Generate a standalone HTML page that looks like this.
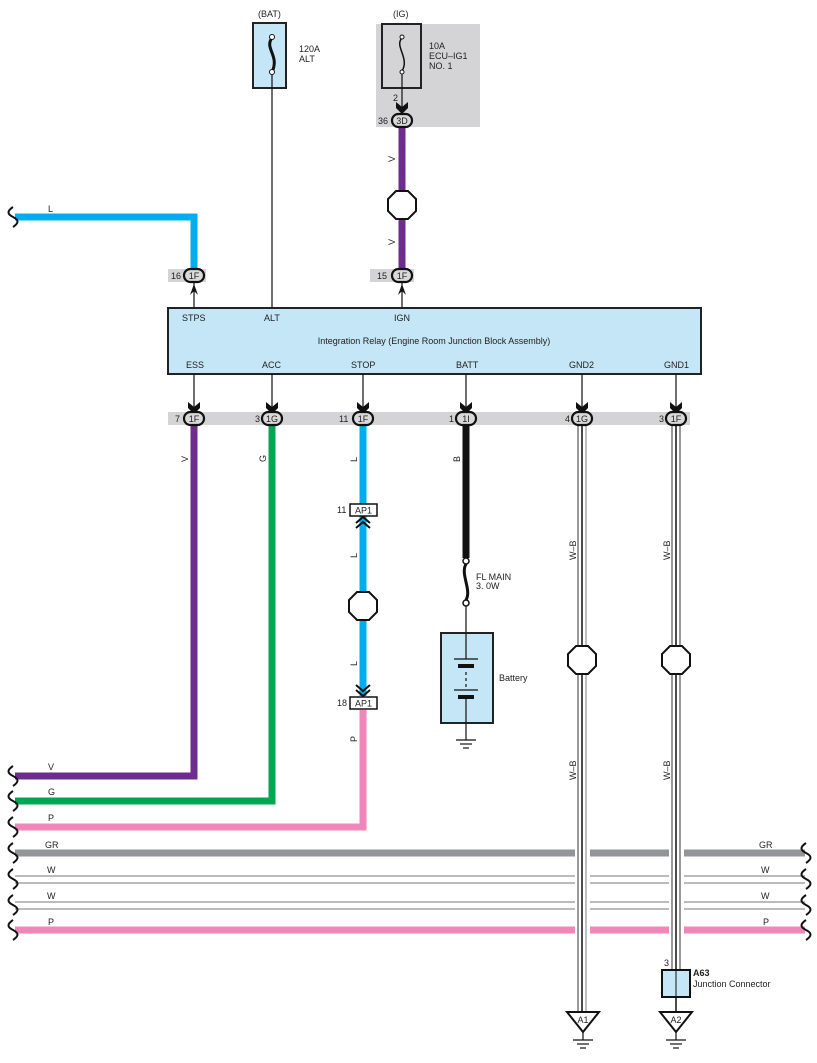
<!DOCTYPE html>
<html><head><meta charset="utf-8"><style>body{margin:0;background:#fff}svg{display:block}text{font-family:"Liberation Sans",sans-serif;font-size:9px;fill:#222}</style></head><body>
<svg width="817" height="1063" viewBox="0 0 817 1063" xmlns="http://www.w3.org/2000/svg">
<defs>
<path id="dn" d="M-6,-8 L0,-3 L6,-8 L6,-2 L0,4 L-6,-2 Z" fill="#111"/>
<path id="wave" d="M0,-10 C-6,-6 -6,-3 0,0 C6,3 6,6 0,10" fill="none" stroke="#111" stroke-width="2"/>
</defs>
<rect x="376" y="24" width="104" height="103" fill="#d4d4d6"/>
<rect x="168" y="269" width="38" height="13" fill="#d4d4d6"/>
<rect x="370" y="269" width="44" height="13" fill="#d4d4d6"/>
<rect x="168" y="412" width="522" height="13" fill="#d4d4d6"/>
<text x="258" y="17">(BAT)</text>
<rect x="253" y="23" width="33" height="65" fill="#c5e6f6" stroke="#222" stroke-width="2"/>
<path d="M272,38 C264,48 280,56 272,72" fill="none" stroke="#111" stroke-width="3"/>
<circle cx="272" cy="37" r="2.5" fill="#fff" stroke="#111"/><circle cx="272" cy="72" r="2.5" fill="#fff" stroke="#111"/>
<text x="299" y="52">120A</text><text x="299" y="62">ALT</text>
<line x1="272" y1="75" x2="272" y2="308" stroke="#111" stroke-width="1.2"/>
<text x="393" y="17">(IG)</text>
<rect x="382" y="24" width="39" height="64" fill="none" stroke="#222" stroke-width="2"/>
<path d="M402,38 C394,46 410,58 402,71" fill="none" stroke="#111" stroke-width="1.5"/>
<circle cx="402" cy="37" r="2" fill="#fff" stroke="#111"/><circle cx="402" cy="72" r="2" fill="#fff" stroke="#111"/>
<text x="429" y="49">10A</text><text x="429" y="59">ECU–IG1</text><text x="429" y="69">NO. 1</text>
<line x1="402" y1="74" x2="402" y2="112" stroke="#111" stroke-width="1.2"/>
<text x="393" y="101">2</text>
<use href="#dn" x="402" y="110"/>
<line x1="402" y1="126" x2="402" y2="268" stroke="#6e2c8f" stroke-width="7"/>
<text transform="translate(395,162) rotate(-90)">V</text>
<text transform="translate(395,245) rotate(-90)">V</text>
<path d="M15,217 H194 V268" fill="none" stroke="#00aeef" stroke-width="7"/>
<text x="48" y="212">L</text>
<use href="#wave" x="13" y="217"/>
<line x1="194" y1="282" x2="194" y2="308" stroke="#111" stroke-width="1.2"/>
<line x1="402" y1="282" x2="402" y2="308" stroke="#111" stroke-width="1.2"/>
<path d="M190,295 L194,284 L198,295 L194,291Z" fill="#111"/>
<path d="M398,295 L402,284 L406,295 L402,291Z" fill="#111"/>
<rect x="168" y="308" width="533" height="66" fill="#c5e6f6" stroke="#222" stroke-width="2"/>
<text x="182" y="321">STPS</text><text x="264" y="321">ALT</text><text x="394" y="321">IGN</text>
<text x="434" y="344" text-anchor="middle">Integration Relay (Engine Room Junction Block Assembly)</text>
<text x="186" y="368">ESS</text><text x="262" y="368">ACC</text><text x="351" y="368">STOP</text><text x="456" y="368">BATT</text><text x="569" y="368">GND2</text><text x="664" y="368">GND1</text>
<g stroke="#111" stroke-width="1.2">
<line x1="194" y1="374" x2="194" y2="410"/><line x1="272" y1="374" x2="272" y2="410"/><line x1="363" y1="374" x2="363" y2="410"/><line x1="466" y1="374" x2="466" y2="410"/><line x1="582" y1="374" x2="582" y2="410"/><line x1="676" y1="374" x2="676" y2="410"/>
</g>
<use href="#dn" x="194" y="410"/><use href="#dn" x="272" y="410"/><use href="#dn" x="363" y="410"/><use href="#dn" x="466" y="410"/><use href="#dn" x="582" y="410"/><use href="#dn" x="676" y="410"/>
<path d="M194,424 V776 H15" fill="none" stroke="#6e2c8f" stroke-width="7"/>
<path d="M272,424 V801 H15" fill="none" stroke="#00a651" stroke-width="7"/>
<line x1="363" y1="424" x2="363" y2="696" stroke="#00aeef" stroke-width="7"/>
<path d="M363,710 V827 H15" fill="none" stroke="#f186b8" stroke-width="7"/>
<line x1="466" y1="424" x2="466" y2="558" stroke="#111" stroke-width="7"/>
<text transform="translate(188,462) rotate(-90)">V</text>
<text transform="translate(266,462) rotate(-90)">G</text>
<text transform="translate(357,462) rotate(-90)">L</text>
<text transform="translate(357,558) rotate(-90)">L</text>
<text transform="translate(357,666) rotate(-90)">L</text>
<text transform="translate(357,742) rotate(-90)">P</text>
<text transform="translate(460,462) rotate(-90)">B</text>
<line x1="15" y1="853" x2="805" y2="853" stroke="#939598" stroke-width="7"/>
<line x1="15" y1="876" x2="805" y2="876" stroke="#777" stroke-width="1"/><line x1="15" y1="883" x2="805" y2="883" stroke="#777" stroke-width="1"/>
<line x1="15" y1="902" x2="805" y2="902" stroke="#777" stroke-width="1"/><line x1="15" y1="909" x2="805" y2="909" stroke="#777" stroke-width="1"/>
<line x1="15" y1="930" x2="805" y2="930" stroke="#f186b8" stroke-width="7"/>
<text x="48" y="770">V</text><text x="48" y="795">G</text><text x="48" y="821">P</text><text x="45" y="848">GR</text><text x="47" y="873">W</text><text x="47" y="899">W</text><text x="48" y="925">P</text>
<text x="759" y="848">GR</text><text x="761" y="873">W</text><text x="761" y="899">W</text><text x="763" y="925">P</text>
<use href="#wave" x="13" y="776"/><use href="#wave" x="13" y="801"/><use href="#wave" x="13" y="827"/><use href="#wave" x="13" y="853"/><use href="#wave" x="13" y="879"/><use href="#wave" x="13" y="905"/><use href="#wave" x="13" y="930"/>
<use href="#wave" x="806" y="853"/><use href="#wave" x="806" y="879"/><use href="#wave" x="806" y="905"/><use href="#wave" x="806" y="930"/>
<rect x="575" y="845" width="15" height="92" fill="#fff"/>
<rect x="669" y="845" width="15" height="92" fill="#fff"/>
<g>
<rect x="578" y="424" width="8" height="588" fill="#fff"/><line x1="578" y1="424" x2="578" y2="1012" stroke="#333" stroke-width="1"/><line x1="582" y1="424" x2="582" y2="1012" stroke="#111" stroke-width="1.5"/><line x1="586" y1="424" x2="586" y2="1012" stroke="#aaa" stroke-width="1.5"/>
<rect x="672" y="424" width="8" height="546" fill="#fff"/><line x1="672" y1="424" x2="672" y2="970" stroke="#333" stroke-width="1"/><line x1="676" y1="424" x2="676" y2="1012" stroke="#111" stroke-width="1.5"/><line x1="680" y1="424" x2="680" y2="970" stroke="#333" stroke-width="1"/>
</g>
<text transform="translate(576,560) rotate(-90)">W–B</text>
<text transform="translate(670,560) rotate(-90)">W–B</text>
<text transform="translate(576,780) rotate(-90)">W–B</text>
<text transform="translate(670,780) rotate(-90)">W–B</text>
<g fill="#d9d9d9" stroke="#111" stroke-width="2.2">
<rect x="184" y="269" width="20" height="13" rx="6.5"/><rect x="392" y="269" width="20" height="13" rx="6.5"/><rect x="392" y="114" width="20" height="13" rx="6.5"/>
<rect x="184" y="412" width="20" height="13" rx="6.5"/><rect x="262" y="412" width="20" height="13" rx="6.5"/><rect x="353" y="412" width="20" height="13" rx="6.5"/><rect x="456" y="412" width="20" height="13" rx="6.5"/><rect x="572" y="412" width="20" height="13" rx="6.5"/><rect x="666" y="412" width="20" height="13" rx="6.5"/>
</g>
<g font-size="8.5">
<text x="194" y="279" text-anchor="middle">1F</text><text x="402" y="279" text-anchor="middle">1F</text><text x="402" y="124" text-anchor="middle">3D</text>
<text x="194" y="422" text-anchor="middle">1F</text><text x="272" y="422" text-anchor="middle">1G</text><text x="363" y="422" text-anchor="middle">1F</text><text x="466" y="422" text-anchor="middle">1I</text><text x="582" y="422" text-anchor="middle">1G</text><text x="676" y="422" text-anchor="middle">1F</text>
</g>
<text x="171" y="279">16</text><text x="377" y="279">15</text><text x="378" y="124">36</text>
<text x="175" y="422">7</text><text x="255" y="422">3</text><text x="339" y="422">11</text><text x="449" y="422">1</text><text x="565" y="422">4</text><text x="659" y="422">3</text>
<g fill="#fff" stroke="#111" stroke-width="2">
<polygon points="396,191 408,191 416,199 416,211 408,219 396,219 388,211 388,199"/>
<polygon points="357,592 369,592 377,600 377,612 369,620 357,620 349,612 349,600"/>
<polygon points="576,646 588,646 596,654 596,666 588,674 576,674 568,666 568,654"/>
<polygon points="670,646 682,646 690,654 690,666 682,674 670,674 662,666 662,654"/>
</g>
<rect x="350" y="504" width="27" height="12" fill="#fff" stroke="#111" stroke-width="1.5"/><text x="363.5" y="513.5" text-anchor="middle">AP1</text><text x="337" y="513">11</text>
<rect x="350" y="697" width="27" height="12" fill="#fff" stroke="#111" stroke-width="1.5"/><text x="363.5" y="706.5" text-anchor="middle">AP1</text><text x="337" y="706">18</text>
<path d="M356,523 L363,517 L370,523 M356,528 L363,522 L370,528" fill="none" stroke="#111" stroke-width="2"/>
<path d="M356,685 L363,691 L370,685 M356,690 L363,696 L370,690" fill="none" stroke="#111" stroke-width="2"/>
<path d="M466,564 C460,574 472,590 466,600" fill="none" stroke="#111" stroke-width="3"/>
<circle cx="466" cy="561" r="3" fill="#fff" stroke="#111" stroke-width="1.5"/><circle cx="466" cy="603" r="3" fill="#fff" stroke="#111" stroke-width="1.5"/>
<text x="476" y="580">FL MAIN</text><text x="476" y="589">3. 0W</text>
<line x1="466" y1="606" x2="466" y2="740" stroke="#111" stroke-width="1.2"/>
<rect x="441" y="633" width="52" height="90" fill="#c5e6f6" stroke="#222" stroke-width="2"/>
<line x1="466" y1="633" x2="466" y2="659" stroke="#111" stroke-width="1.2"/>
<line x1="466" y1="699" x2="466" y2="723" stroke="#111" stroke-width="1.2"/>
<line x1="454" y1="659" x2="478" y2="659" stroke="#111" stroke-width="1.2"/><rect x="458" y="664" width="16" height="4" fill="#111"/>
<line x1="466" y1="672" x2="466" y2="688" stroke="#c5e6f6" stroke-width="2"/>
<line x1="466" y1="672" x2="466" y2="688" stroke="#111" stroke-width="1.2" stroke-dasharray="3,3"/>
<line x1="454" y1="690" x2="478" y2="690" stroke="#111" stroke-width="1.2"/><rect x="458" y="695" width="16" height="4" fill="#111"/>
<text x="499" y="681">Battery</text>
<g stroke="#111" stroke-width="1.2"><line x1="456" y1="740" x2="476" y2="740"/><line x1="460" y1="744" x2="472" y2="744"/><line x1="463" y1="748" x2="469" y2="748"/></g>
<text x="664" y="966">3</text>
<rect x="662" y="970" width="28" height="27" fill="#c5e6f6" stroke="#111" stroke-width="2"/>
<line x1="676" y1="970" x2="676" y2="1012" stroke="#111" stroke-width="1"/>
<text x="693" y="976" font-weight="bold">A63</text><text x="693" y="987">Junction Connector</text>
<g fill="#fff" stroke="#111" stroke-width="2">
<polygon points="567,1012 599,1012 583,1032"/><polygon points="660,1012 692,1012 676,1032"/>
</g>
<text x="583" y="1023" text-anchor="middle">A1</text><text x="676" y="1023" text-anchor="middle">A2</text>
<g stroke="#111" stroke-width="1.2">
<line x1="573" y1="1040" x2="593" y2="1040"/><line x1="577" y1="1044" x2="589" y2="1044"/><line x1="580" y1="1048" x2="586" y2="1048"/>
<line x1="666" y1="1040" x2="686" y2="1040"/><line x1="670" y1="1044" x2="682" y2="1044"/><line x1="673" y1="1048" x2="679" y2="1048"/>
<line x1="583" y1="1032" x2="583" y2="1040"/><line x1="676" y1="1032" x2="676" y2="1040"/>
</g>
</svg>
</body></html>
